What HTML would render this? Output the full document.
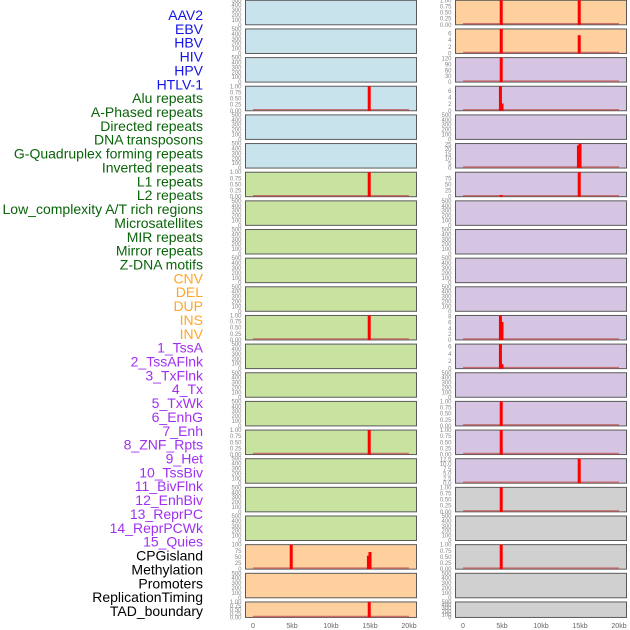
<!DOCTYPE html>
<html><head><meta charset="utf-8">
<style>
html,body{margin:0;padding:0;background:#fff;}
body{width:630px;height:630px;overflow:hidden;position:relative;font-family:"Liberation Sans",sans-serif;}
</style></head>
<body>
<svg id="chart" width="630" height="630" xmlns="http://www.w3.org/2000/svg" style="position:absolute;left:0;top:0"></svg>
<script>
// ---- data ----
const labels = ["AAV2","EBV","HBV","HIV","HPV","HTLV-1","Alu repeats","A-Phased repeats","Directed repeats","DNA transposons","G-Quadruplex forming repeats","Inverted repeats","L1 repeats","L2 repeats","Low_complexity A/T rich regions","Microsatellites","MIR repeats","Mirror repeats","Z-DNA motifs","CNV","DEL","DUP","INS","INV","1_TssA","2_TssAFlnk","3_TxFlnk","4_Tx","5_TxWk","6_EnhG","7_Enh","8_ZNF_Rpts","9_Het","10_TssBiv","11_BivFlnk","12_EnhBiv","13_ReprPC","14_ReprPCWk","15_Quies","CPGisland","Methylation","Promoters","ReplicationTiming","TAD_boundary"];
const labelGroups = [0,0,0,0,0,0,1,1,1,1,1,1,1,1,1,1,1,1,1,2,2,2,2,2,3,3,3,3,3,3,3,3,3,3,3,3,3,3,3,4,4,4,4,4];
const groupColors = ["#1414e6","#0a640a","#ffa52a","#a030f0","#000000"];

const E = ["0","100","200","300","400","500"];
const U = ["0.00","0.25","0.50","0.75","1.00"];
// left column
const leftBg = [0,0,0,0,0,0,1,1,1,1,1,1,1,1,1,1,1,1,1,2,2,2];
const leftTicks = [E,E,E,U,E,E,U,E,E,E,E,U,E,E,E,U,E,E,E,["0","25","50","75","100"],E,U];
const leftMax = [500,500,500,1,500,500,1,500,500,500,500,1,500,500,500,1,500,500,500,100,500,1];
const leftBarPos = [[],[],[],[14.9],[],[],[14.9],[],[],[],[],[14.9],[],[],[],[14.9],[],[],[],[4.9,14.8,15.0],[],[14.9]];
const leftBarVal = [[],[],[],[1],[],[],[1],[],[],[],[],[1],[],[],[],[1],[],[],[],[100,55,70],[],[1]];
// right column
const rightBg = [2,2,3,3,3,3,3,3,3,3,3,3,3,3,3,3,3,4,4,4,4,4];
const rightTicks = [U,["0","2","4","6"],["0","30","60","90","120"],["0","2","4","6"],E,["0","5","10","15","20","25"],["0","25","50","75"],E,E,E,E,["0","2","4","6","8"],["0","2","4","6"],E,U,U,["0.0","2.5","5.0","7.5","10.0","12.5"],U,E,U,E,E];
const rightMax = [1,7.4,125,7.4,500,26,100,500,500,500,500,8.4,6.6,500,1,1,12.8,1,500,1,500,500];
const rightBarPos = [[4.9,14.9],[4.9,14.9],[4.9],[4.8,5.0],[],[14.8,15.0],[4.9,14.9],[],[],[],[],[4.8,5.0],[4.8,5.0],[],[4.9],[4.9],[14.9],[4.9],[],[4.9],[],[]];
const rightBarVal = [[1,1],[7.4,5.5],[125],[7.4,2.2],[],[24,26],[7,100],[],[],[],[],[8.4,6.2],[6.6,1.2],[],[1],[1],[12.8],[1],[],[1],[],[]];
const xTicks = [0,5,10,15,20];
const xTickLabels = ["0","5kb","10kb","15kb","20kb"];
const bgColors = ["#c8e3ec","#c8e2a0","#fed09e","#d5c5e2","#d0d0d0"];

// ---- drawing ----
const NS="http://www.w3.org/2000/svg";
const svg=document.getElementById('chart');
function mk(tag,attrs,parent){const e=document.createElementNS(NS,tag);for(const k in attrs)e.setAttribute(k,attrs[k]);(parent||svg).appendChild(e);return e;}

labels.forEach((t,i)=>{
  const el=mk('text',{x:203,y:15+i*13.86+5,'text-anchor':'end','font-size':'14',fill:groupColors[labelGroups[i]]});
  
  
  el.textContent=t;
});

function panelTop(i){return 0.3+i*28.65;}
function panelH(i){return i===21?15.5:24.5;}

function drawColumn(col,px0,px1,x0,x1,bg,ticks,maxs,bpos,bval){
  const xs=v=>x0+(x1-x0)*v/20;
  for(let i=0;i<22;i++){
    const top=panelTop(i),h=panelH(i);
    const g=mk('g',{});
    
    
    const r=mk('rect',{x:px0,y:top,width:px1-px0,height:h,fill:bgColors[bg[i]],stroke:'#5a5a5a','stroke-width':1},g);
    
    
    const ys=v=>top+h-h*v/maxs[i];
    const tk=ticks[i],n=tk.length;
    tk.forEach((t,j)=>{
      const v=(maxs[i]===500)?j*100:parseFloat(t);
      let y=(maxs[i]===500)?top+h-h*j/(n-1):ys(v);
      const el=mk('text',{x:px0-4,y:y+2,'text-anchor':'end','font-size':'6',fill:'#888'},g);
      
      
      el.textContent=t;
    });
    if(bpos[i].length){
      const bl=mk('line',{x1:xs(0),x2:xs(20),y1:top+h-1,y2:top+h-1,stroke:'#c05858','stroke-width':1.5,'stroke-opacity':0.8},g);
      
      
      bpos[i].forEach((p,k)=>{
        const v=Math.min(bval[i][k],maxs[i]);
        const y=ys(v);
        const b=mk('rect',{x:xs(p)-1.5,y:y,width:3,height:top+h-y,fill:'#ff0000'},g);
        
        
      });
    }
  }
  xTicks.forEach((v,j)=>{
    const el=mk('text',{x:xs(v),y:628,'text-anchor':'middle','font-size':'7',fill:'#666'});
    
    
    el.textContent=xTickLabels[j];
  });
}
drawColumn('left',245.5,416.5,253,409,leftBg,leftTicks,leftMax,leftBarPos,leftBarVal);
drawColumn('right',455.5,626.5,463,619,rightBg,rightTicks,rightMax,rightBarPos,rightBarVal);
</script>
</body></html>
